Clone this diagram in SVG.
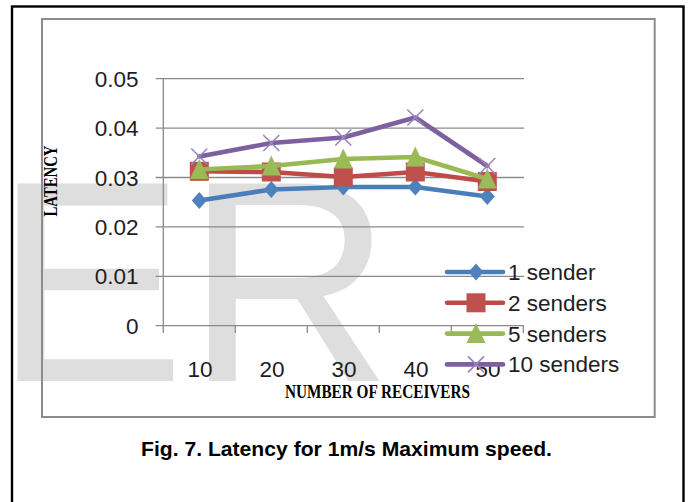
<svg xmlns="http://www.w3.org/2000/svg" xmlns:xlink="http://www.w3.org/1999/xlink" width="688" height="502" viewBox="0 0 688 502">
  <style>
    .num { font-family: "Liberation Sans", Arial, sans-serif; font-size: 22.5px; fill: #1e1e1e; }
    .ylab { text-anchor: end; }
    .xlab { text-anchor: middle; }
    .axt { font-family: "Liberation Serif", "Times New Roman", serif; font-weight: bold; fill: #000; }
    .cap { font-family: "Liberation Sans", Arial, sans-serif; font-weight: bold; font-size: 21px; fill: #000; }
    .grid { stroke: #8a8a8a; stroke-width: 1.3; fill: none; }
    .series { fill: none; stroke-width: 4.6; stroke-linejoin: round; stroke-linecap: round; }
    .s1 { stroke: #4A7EBB; }
    .s2 { stroke: #BE4B48; }
    .s3 { stroke: #98B954; }
    .s4 { stroke: #7D60A0; }
  </style>
  <defs>
    <polygon id="mk-diamond" points="0,-8.5 7.5,0 0,8.5 -7.5,0" fill="#4F81BD"/>
    <rect id="mk-square" x="-9.5" y="-9.5" width="19" height="19" fill="#C0504D"/>
    <polygon id="mk-triangle" points="0,-10.5 9.5,9.5 -9.5,9.5" fill="#9BBB59"/>
    <path id="mk-cross" d="M-8,-8 L8,8 M-8,8 L8,-8" stroke="#9A86C0" stroke-width="1.6" fill="none"/>
  </defs>

  <!-- page background -->
  <rect x="0" y="0" width="688" height="502" fill="#ffffff"/>

  <!-- watermark letters -->
  <g id="watermark">
    <text x="-6" y="381" font-family="'Liberation Sans', Arial, sans-serif" font-size="287" fill="#dedede">ER</text>
  </g>

  <!-- outer figure frame and chart frame -->
  <g id="frames">
    <rect x="12" y="6.5" width="671.5" height="500" fill="none" stroke="#000" stroke-width="2.4"/>
    <rect x="42" y="19" width="612.7" height="398" fill="none" stroke="#8c8c8c" stroke-width="2"/>
  </g>

  <!-- gridlines, axes and ticks -->
  <g id="axes">
    <line class="grid" x1="155.7" y1="78.7" x2="524" y2="78.7"/>
    <line class="grid" x1="155.7" y1="128.1" x2="524" y2="128.1"/>
    <line class="grid" x1="155.7" y1="177.5" x2="524" y2="177.5"/>
    <line class="grid" x1="155.7" y1="226.9" x2="524" y2="226.9"/>
    <line class="grid" x1="155.7" y1="276.3" x2="524" y2="276.3"/>
    <line class="grid" x1="155.7" y1="325.7" x2="524" y2="325.7"/>
    <line class="grid" x1="163.3" y1="78.7" x2="163.3" y2="333"/>
    <line class="grid" x1="235.3" y1="325.7" x2="235.3" y2="333"/>
    <line class="grid" x1="307.3" y1="325.7" x2="307.3" y2="333"/>
    <line class="grid" x1="379.3" y1="325.7" x2="379.3" y2="333"/>
    <line class="grid" x1="451.3" y1="325.7" x2="451.3" y2="333"/>
    <line class="grid" x1="523.3" y1="325.7" x2="523.3" y2="333"/>
  </g>

  <!-- value axis labels -->
  <g id="y-labels" class="num ylab">
    <text x="138.5" y="86.7">0.05</text>
    <text x="138.5" y="136.1">0.04</text>
    <text x="138.5" y="185.5">0.03</text>
    <text x="138.5" y="234.9">0.02</text>
    <text x="138.5" y="284.3">0.01</text>
    <text x="138.5" y="333.7">0</text>
  </g>

  <!-- category axis labels -->
  <g id="x-labels" class="num xlab">
    <text x="200" y="376.5">10</text>
    <text x="272" y="376.5">20</text>
    <text x="344" y="376.5">30</text>
    <text x="416" y="376.5">40</text>
    <text x="488" y="376.5">50</text>
  </g>

  <!-- axis titles -->
  <g id="axis-titles">
    <text class="axt" transform="translate(57,181) rotate(-90)" x="0" y="0" font-size="18" text-anchor="middle" textLength="71" lengthAdjust="spacingAndGlyphs">LATENCY</text>
    <text class="axt" x="377.5" y="398" font-size="19" text-anchor="middle" textLength="185" lengthAdjust="spacingAndGlyphs">NUMBER OF RECEIVERS</text>
  </g>

  <!-- data series -->
  <g id="series-1-sender">
    <polyline class="series s1" points="199.3,200.5 271.3,189.5 343.3,187 415.3,187 487.3,196.5"/>
    <use xlink:href="#mk-diamond" x="199.3" y="200.5"/>
    <use xlink:href="#mk-diamond" x="271.3" y="189.5"/>
    <use xlink:href="#mk-diamond" x="343.3" y="187"/>
    <use xlink:href="#mk-diamond" x="415.3" y="187"/>
    <use xlink:href="#mk-diamond" x="487.3" y="196.5"/>
  </g>
  <g id="series-2-senders">
    <polyline class="series s2" points="199.3,171.3 271.3,172 343.3,177 415.3,172 487.3,181.5"/>
    <use xlink:href="#mk-square" x="199.3" y="171.3"/>
    <use xlink:href="#mk-square" x="271.3" y="172"/>
    <use xlink:href="#mk-square" x="343.3" y="177"/>
    <use xlink:href="#mk-square" x="415.3" y="172"/>
    <use xlink:href="#mk-square" x="487.3" y="181.5"/>
  </g>
  <g id="series-5-senders">
    <polyline class="series s3" points="199.3,169.5 271.3,166 343.3,159 415.3,157 487.3,179"/>
    <use xlink:href="#mk-triangle" x="199.3" y="169.5"/>
    <use xlink:href="#mk-triangle" x="271.3" y="166"/>
    <use xlink:href="#mk-triangle" x="343.3" y="159"/>
    <use xlink:href="#mk-triangle" x="415.3" y="157"/>
    <use xlink:href="#mk-triangle" x="487.3" y="179"/>
  </g>
  <g id="series-10-senders">
    <polyline class="series s4" points="199.3,156.5 271.3,143 343.3,137.5 415.3,117.5 487.3,166"/>
    <use xlink:href="#mk-cross" x="199.3" y="156.5"/>
    <use xlink:href="#mk-cross" x="271.3" y="143"/>
    <use xlink:href="#mk-cross" x="343.3" y="137.5"/>
    <use xlink:href="#mk-cross" x="415.3" y="117.5"/>
    <use xlink:href="#mk-cross" x="487.3" y="166"/>
  </g>

  <!-- legend -->
  <g id="legend">
    <line class="series s1" x1="447" y1="272" x2="503" y2="272"/>
    <use xlink:href="#mk-diamond" x="476" y="272"/>
    <text class="num" x="508" y="280">1 sender</text>
    <line class="series s2" x1="447" y1="302.8" x2="503" y2="302.8"/>
    <use xlink:href="#mk-square" x="476" y="302.8"/>
    <text class="num" x="508" y="310.8">2 senders</text>
    <line class="series s3" x1="447" y1="333.6" x2="503" y2="333.6"/>
    <use xlink:href="#mk-triangle" x="476" y="333.6"/>
    <text class="num" x="508" y="341.6">5 senders</text>
    <line class="series s4" x1="447" y1="364.4" x2="503" y2="364.4"/>
    <use xlink:href="#mk-cross" x="476" y="364.4"/>
    <text class="num" x="508" y="372.4">10 senders</text>
  </g>

  <!-- figure caption -->
  <g id="caption">
    <text class="cap" x="141" y="456" textLength="411" lengthAdjust="spacingAndGlyphs">Fig. 7. Latency for 1m/s Maximum speed.</text>
  </g>
</svg>
